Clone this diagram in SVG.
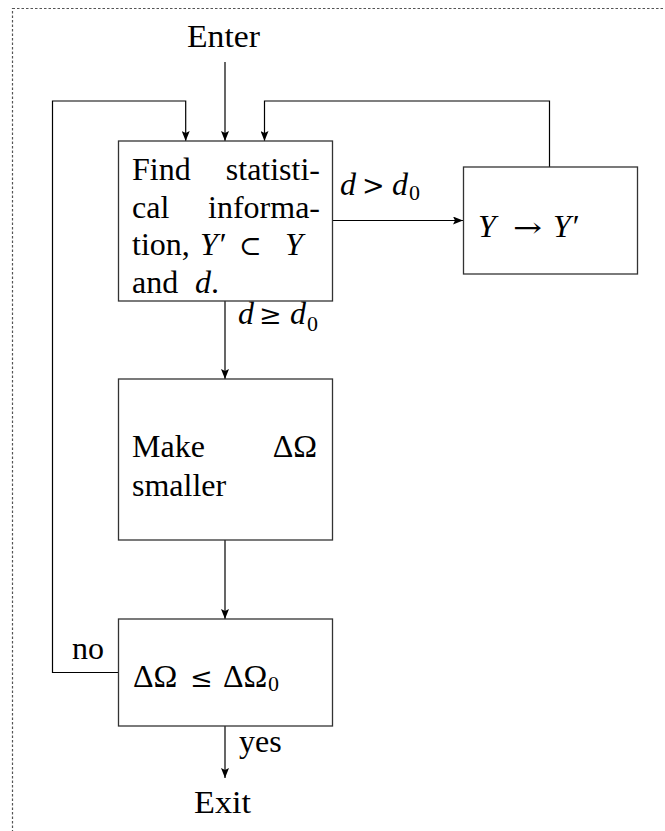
<svg xmlns="http://www.w3.org/2000/svg" width="665" height="831" viewBox="0 0 665 831">
<style>
.i{font-style:italic}
.s{font-size:22px}
.op{font-family:"DejaVu Serif",serif;font-size:27px}
.box{fill:#fff;stroke:#333;stroke-width:1.3}
.c{fill:none;stroke:#000;stroke-width:1.2}
</style>
<defs>
<marker id="a" markerWidth="10" markerHeight="8" refX="10" refY="4" orient="auto" markerUnits="userSpaceOnUse">
<path d="M0,0 L10,4 L0,8 L2,4 z" fill="#000"/>
</marker>
</defs>
<rect x="12.5" y="8.5" width="700" height="900" fill="none" stroke="#555" stroke-width="1.2" stroke-dasharray="2.5,2"/>
<g font-family="Liberation Serif, DejaVu Serif, serif" font-size="32" fill="#000">
<g id="connectors">
<path class="c" d="M225,62 L225,141" marker-end="url(#a)"/>
<path class="c" d="M118,672.5 L52.5,672.5 L52.5,101 L185.7,101 L185.7,141" marker-end="url(#a)"/>
<path class="c" d="M549.5,167 L549.5,101 L264.5,101 L264.5,141" marker-end="url(#a)"/>
<path class="c" d="M332,220.5 L463,220.5" marker-end="url(#a)"/>
<path class="c" d="M225,301 L225,379" marker-end="url(#a)"/>
<path class="c" d="M225,540 L225,619" marker-end="url(#a)"/>
<path class="c" d="M225,726 L225,778" marker-end="url(#a)"/>
<text x="340" y="195" class="i">d</text><text x="362" y="195" class="op">&gt;</text><text x="392" y="195" class="i">d</text><text x="409" y="200" class="s">0</text>
<text x="238" y="324" class="i">d</text><text x="259" y="324" class="op">≥</text><text x="290" y="324" class="i">d</text><text x="307" y="331" class="s">0</text>
<text x="72" y="659">no</text>
<text x="239" y="752">yes</text>
</g>
<g id="enter"><text x="187" y="47" textLength="73" lengthAdjust="spacingAndGlyphs">Enter</text></g>
<g id="exit"><text x="194" y="813" textLength="57" lengthAdjust="spacingAndGlyphs">Exit</text></g>
<g id="find">
<rect class="box" x="118.5" y="141" width="214" height="160"/>
<text x="132" y="180">Find</text><text x="320" y="180" text-anchor="end">statisti-</text>
<text x="132" y="218">cal</text><text x="320" y="218" text-anchor="end">informa-</text>
<text x="132" y="255">tion,</text><text x="200" y="255" class="i">Y′</text><text x="239" y="255" class="op">⊂</text><text x="285" y="255" class="i">Y</text>
<text x="132" y="293">and</text><text x="195" y="293"><tspan class="i">d</tspan>.</text>
</g>
<g id="transform">
<rect class="box" x="463.5" y="167" width="174" height="107"/>
<text x="478" y="237" class="i">Y</text><text x="513" y="237" class="op" textLength="29" lengthAdjust="spacingAndGlyphs">→</text><text x="553" y="237" class="i">Y′</text>
</g>
<g id="make">
<rect class="box" x="118.5" y="379" width="214" height="161"/>
<text x="132" y="457">Make</text><text x="317" y="457" text-anchor="end">ΔΩ</text>
<text x="132" y="496">smaller</text>
</g>
<g id="check">
<rect class="box" x="118.5" y="619" width="214" height="107"/>
<text x="133" y="687">ΔΩ</text><text x="190" y="687" class="op">≤</text><text x="223" y="687">ΔΩ</text><text x="268" y="691" class="s">0</text>
</g>
</g>
</svg>
